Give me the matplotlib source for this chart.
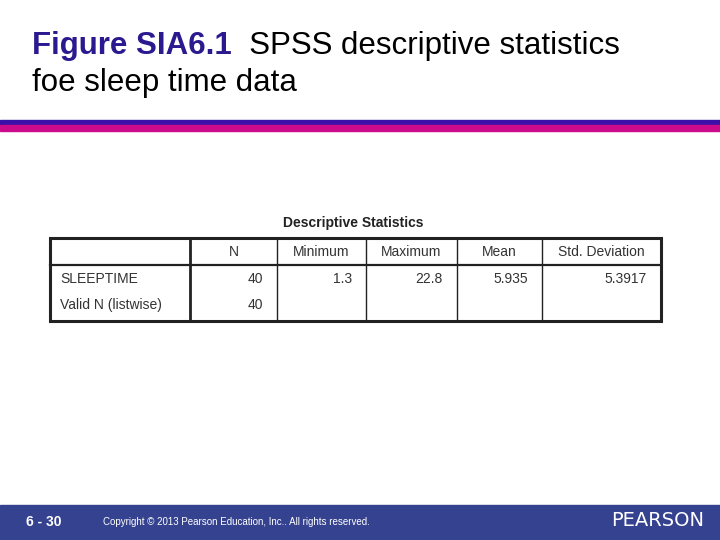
import matplotlib
matplotlib.use("Agg")
import matplotlib.pyplot as plt
from matplotlib.patches import Rectangle

title_bold = "Figure SIA6.1"
title_rest = "  SPSS descriptive statistics"
title_line2 = "foe sleep time data"
table_title = "Descriptive Statistics"
columns = ["N", "Minimum", "Maximum", "Mean", "Std. Deviation"]
row_labels = ["SLEEPTIME", "Valid N (listwise)"]
values = [["40", "1.3", "22.8", "5.935", "5.3917"],
          ["40", "", "", "", ""]]
page = "6 - 30"
copyright_text = "Copyright © 2013 Pearson Education, Inc.. All rights reserved."
brand = "PEARSON"

fig = plt.figure(figsize=(7.2, 5.4), dpi=100)
ax = fig.add_axes([0, 0, 1, 1])
ax.set_xlim(0, 720); ax.set_ylim(540, 0); ax.axis("off")

# title
tfs = 22.5
t = ax.text(32, 46, title_bold, fontsize=tfs, color="#2b1a8f", fontweight="bold",
            family="Liberation Sans", va="center")
fig.canvas.draw()
bb = t.get_window_extent().transformed(ax.transData.inverted())
ax.text(bb.x1, 46, title_rest, fontsize=tfs, color="black", family="Liberation Sans", va="center")
ax.text(32, 83, title_line2, fontsize=tfs, color="black", family="Liberation Sans", va="center")

# stripes
ax.add_patch(Rectangle((0, 120), 720, 5, color="#3a10a8"))
ax.add_patch(Rectangle((0, 125), 720, 6, color="#cc0a8c"))

# table
ax.text(353, 223, table_title, fontsize=10, fontweight="bold", ha="center", va="center",
        family="Liberation Sans", color="#222222")
colx = [50, 190, 277, 366, 457, 542, 661]
rowy = [238, 265, 292, 321]
ax.add_patch(Rectangle((50, 238), 611, 83, fill=False, lw=2.2, ec="#222222"))
for i, x in enumerate(colx[1:-1]):
    ax.plot([x, x], [238, 321], color="#222222", lw=2.0 if i == 0 else 1.0)
ax.plot([50, 661], [265, 265], color="#222222", lw=1.6)
fs = 10
for j, c in enumerate(columns):
    ax.text((colx[j+1] + colx[j+2]) / 2, 252, c, fontsize=fs, ha="center", va="center",
            family="Liberation Sans", color="#333333")
for r, lab in enumerate(row_labels):
    yc = 279 + r * 26
    ax.text(60, yc, lab, fontsize=fs, va="center", family="Liberation Sans", color="#333333")
    for j, v in enumerate(values[r]):
        if v:
            ax.text(colx[j+2] - 14, yc, v, fontsize=fs, ha="right", va="center",
                    family="Liberation Sans", color="#333333")

# footer
ax.add_patch(Rectangle((0, 505), 720, 35, color="#35428f"))
ax.text(26, 522, page, fontsize=10, fontweight="bold", color="white", va="center", family="Liberation Sans")
ax.text(103, 522, copyright_text, fontsize=7, color="white", va="center", family="Liberation Sans")
ax.text(704, 521, brand, fontsize=14, color="white", va="center", ha="right", family="DejaVu Sans")

fig.savefig("out.png", dpi=100)
